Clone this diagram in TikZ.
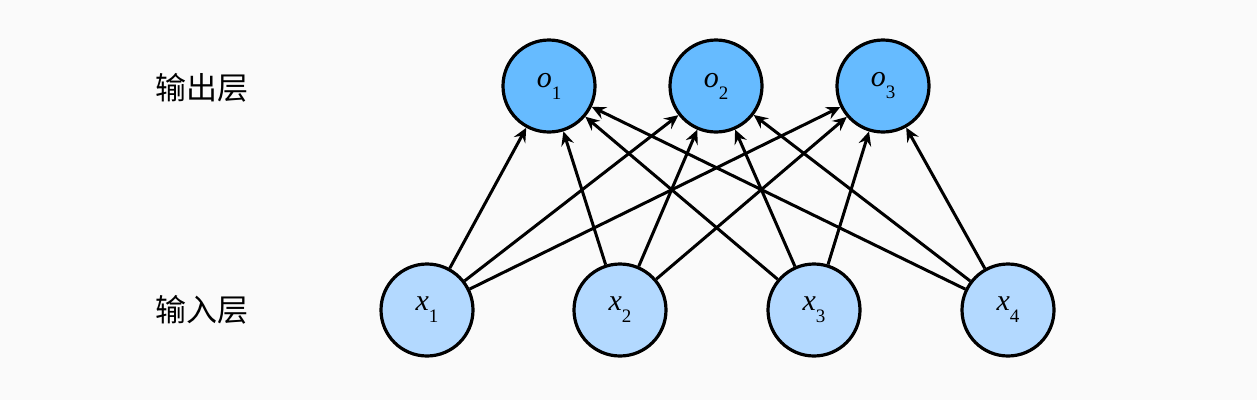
\documentclass[tikz,border=0pt]{standalone}
\usepackage{fontspec}
\newfontfamily\cjk{Noto Sans CJK SC}
\newfontfamily\tms{Liberation Serif}
\usetikzlibrary{arrows.meta}
\definecolor{bgc}{HTML}{FAFAFA}
\definecolor{ofill}{HTML}{66BBFF}
\definecolor{xfill}{HTML}{B3D9FF}
\newcommand{\vlab}[2]{{\tms\itshape #1}\raisebox{-0.4em}{\tms\fontsize{19}{21}\selectfont #2}}
\tikzset{
  onode/.style={circle,draw=black,line width=3.2pt,fill=ofill,minimum size=92pt,inner sep=0pt,font=\fontsize{30}{32}\selectfont},
  xnode/.style={circle,draw=black,line width=3.2pt,fill=xfill,minimum size=92pt,inner sep=0pt,font=\fontsize{30}{32}\selectfont},
  conn/.style={line width=3pt,-{Stealth[length=14pt,width=13pt,inset=5pt]}},
  lab/.style={font=\cjk\fontsize{31}{33}\selectfont}
}
\begin{document}
\begin{tikzpicture}[x=1pt,y=-1pt]
\fill[bgc] (0,0) rectangle (1257,400);
\useasboundingbox (0,0) rectangle (1257,400);
\node[onode] (o1) at (549,86) {\vlab{o}{1}};
\node[onode] (o2) at (716,86) {\vlab{o}{2}};
\node[onode] (o3) at (883,86) {\vlab{o}{3}};
\node[xnode] (x1) at (427,310) {\vlab{x}{1}};
\node[xnode] (x2) at (620,310) {\vlab{x}{2}};
\node[xnode] (x3) at (814,310) {\vlab{x}{3}};
\node[xnode] (x4) at (1008,310) {\vlab{x}{4}};
\node[lab] (lo) at (202,88) {输出层};
\node[lab] (li) at (202,310) {输入层};
\foreach \i in {1,2,3,4}{
  \foreach \j in {1,2,3}{
    \draw[conn] (x\i) -- (o\j);
  }
}
\end{tikzpicture}
\end{document}
